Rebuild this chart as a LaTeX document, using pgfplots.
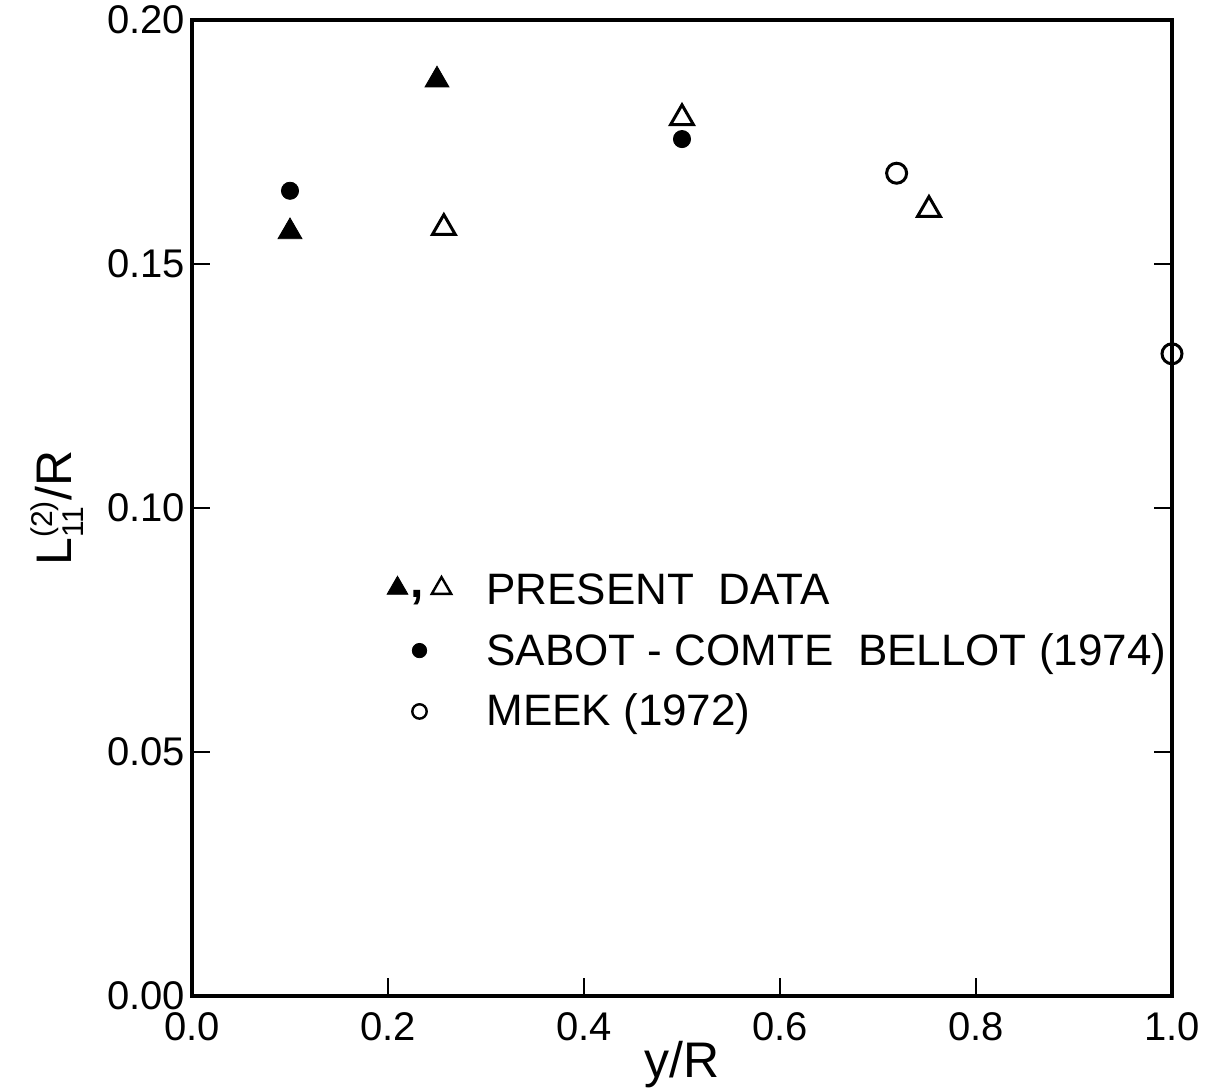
\documentclass[border=0pt]{standalone}
\usepackage{fontspec}
\setmainfont{Liberation Sans}
\usepackage{pgfplots}
\pgfplotsset{compat=1.18}
\begin{document}
\begin{tikzpicture}
\begin{axis}[
  name=ax,
  scale only axis,
  width=490pt, height=488pt,
  xmin=0, xmax=1, ymin=0, ymax=0.2,
  clip=false,
  axis line style={line width=2pt},
  tick style={line width=1.2pt, black},
  tick align=inside,
  major tick length=9pt,
  xtick={0,0.2,0.4,0.6,0.8,1.0},
  ytick={0,0.05,0.1,0.15,0.2},
  xtick pos=bottom,
  ytick pos=both,
  /pgf/number format/assume math mode=true,
  xticklabel style={/pgf/number format/.cd, fixed, fixed zerofill, precision=1, /tikz/.cd, yshift=-5pt},
  yticklabel style={/pgf/number format/.cd, fixed, fixed zerofill, precision=2},
  ticklabel style={font=\fontsize{20}{22}\selectfont},
  scaled y ticks=false,
  xlabel={y/R},
  ylabel={L$^{\mbox{\fontsize{15}{17}\selectfont (2)}}_{\mbox{\fontsize{15}{17}\selectfont 11}}$/R},
  label style={font=\fontsize{25}{28}\selectfont},
  xlabel style={at={(axis description cs:0.5,0)}, anchor=north, yshift=-19pt},
  ylabel style={yshift=5pt},
  legend cell align=left,
  legend style={draw=none, fill=none, at={(axis cs:0.195,0.0875)}, anchor=north west,
    font=\fontsize{22}{26}\selectfont, row sep=9pt, inner sep=0pt},
]
\addplot[only marks, mark=triangle*, mark size=6.9pt, black, forget plot]
  coordinates {(0.1,0.1566) (0.25,0.1877)};
\addplot[only marks, mark=triangle, mark size=6.6pt, black, line width=1.5pt, forget plot]
  coordinates {(0.257,0.1574) (0.5,0.1799) (0.752,0.1611)};
\addplot[only marks, mark=*, mark size=4.3pt, black, forget plot]
  coordinates {(0.1,0.1650) (0.5,0.1756)};
\addplot[only marks, mark=o, mark size=5pt, black, line width=1.5pt, forget plot]
  coordinates {(0.719,0.1686) (1.0,0.1316)};
\addlegendimage{legend image code/.code={
  \path[draw=none, fill=none] (0pt,-5pt) rectangle (49.5pt,5pt);
  \draw[black, mark=triangle*, mark size=6pt] plot coordinates {(7pt,1pt)};
  \node[draw=none, fill=none, anchor=base, inner sep=0pt, font=\fontsize{24}{26}\selectfont\bfseries] at (17pt,-3.5pt) {,};
  \draw[black, mark=triangle, mark size=5.6pt, line width=1.2pt] plot coordinates {(29pt,1pt)};
}}
\addlegendimage{legend image code/.code={
  \path[draw=none, fill=none] (0pt,-5pt) rectangle (49.5pt,5pt);
  \draw[black, mark=*, mark size=3.6pt] plot coordinates {(18pt,0pt)};
}}
\addlegendimage{legend image code/.code={
  \path[draw=none, fill=none] (0pt,-5pt) rectangle (49.5pt,5pt);
  \draw[black, mark=o, mark size=3.6pt, line width=1.2pt] plot coordinates {(18pt,0pt)};
}}
\legend{PRESENT\ \ DATA, SABOT - COMTE\ \ BELLOT (1974), MEEK (1972)}
\end{axis}
\pgfresetboundingbox
\path ([xshift=-96pt,yshift=-47.5pt]ax.south west) rectangle ([xshift=16.5pt,yshift=10pt]ax.north east);
\end{tikzpicture}
\end{document}
